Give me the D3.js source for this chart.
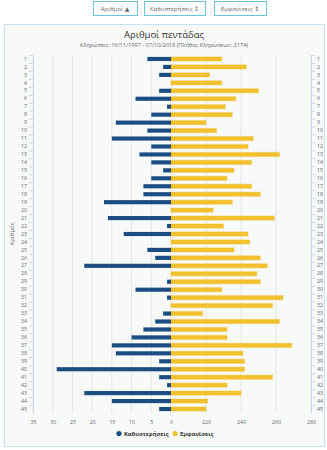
<!DOCTYPE html>
<html>
<head>
<meta charset="utf-8">
<script src="https://cdn.jsdelivr.net/npm/d3@7"></script>
<style>
  html, body { margin: 0; padding: 0; background: #ffffff; }
  body { width: 327px; height: 450px; overflow: hidden; font-family: "Open Sans", "DejaVu Sans", sans-serif; }
  svg { display: block; }
</style>
</head>
<body>
<svg id="chart" width="327" height="450"></svg>
<script>
// ---- Data ----
const numbers = d3.range(1, 46).map(String);
const delays = [6,2,3,0,3,9,1,5,14,6,15,5,8,5,2,5,7,7,17,0,16,1,12,0,6,4,22,0,1,9,1,0,2,4,7,10,15,14,3,29,3,1,22,15,3];
const appearances = [229,243,222,229,250,237,231,235,220,226,247,244,262,246,236,232,246,251,235,224,259,230,244,245,236,251,255,249,251,229,264,258,218,262,232,232,269,241,242,242,258,232,240,221,220];
const delayTicks = [35,30,25,20,15,10,5,0];
const appearTicks = [220,240,260,280];
const buttons = ["Αριθμοί ▲", "Καθυστερήσεις ⇕", "Εμφανίσεις ⇕"];
const title = "Αριθμοί πεντάδας";
const subtitle = "Κληρώσεις: 16/11/1997 - 07/10/2018 (Πλήθος Κληρώσεων: 2174)";
const seriesNames = ["Καθυστερήσεις", "Εμφανίσεις"];
const colors = { delay: "#1b4c82", appear: "#f2c12e" };

(function () {
const svg = d3.select("#chart");

// ---- Buttons ----
const btnBoxes = [[93, 44], [144, 61], [214, 52]];
buttons.forEach((b, i) => {
  const [x, w] = btnBoxes[i];
  svg.append("rect").attr("x", x + 0.5).attr("y", 1.5).attr("width", w).attr("height", 14)
    .attr("fill", "#fff").attr("stroke", "#6cc3dc").attr("stroke-width", 1);
  svg.append("text").attr("x", x + w / 2).attr("y", 11).attr("text-anchor", "middle")
    .attr("font-size", 6).attr("fill", "#666").text(b);
});

// ---- Container ----
svg.append("rect").attr("x", 4.5).attr("y", 24.5).attr("width", 320).attr("height", 422)
  .attr("fill", "#f8f9f9").attr("stroke", "#c4e4ef").attr("stroke-width", 1);

svg.append("text").attr("x", 164).attr("y", 37.5).attr("text-anchor", "middle")
  .attr("font-size", 9.5).attr("fill", "#333").text(title);
svg.append("text").attr("x", 164).attr("y", 47).attr("text-anchor", "middle")
  .attr("font-size", 5.6).attr("fill", "#666").text(subtitle);

// ---- Scales ----
const pTop = 55, pBottom = 413, pLeft = 33, pRight = 311, center = 171;
const y = d3.scaleBand().domain(numbers).range([pTop, pBottom]).paddingInner(0.48).paddingOuter(0.24);
const yb = d3.scaleBand().domain(numbers).range([pTop, pBottom]);
const xL = d3.scaleLinear().domain([0, 35]).range([center, pLeft]);
const xR = d3.scaleLinear().domain([200, 280]).range([center, pRight]);

// ---- Grid ----
const grid = svg.append("g");
delayTicks.forEach(t => grid.append("line").attr("x1", xL(t)).attr("x2", xL(t)).attr("y1", pTop).attr("y2", pBottom)
  .attr("stroke", "#e6e6e6").attr("stroke-width", 1));
appearTicks.forEach(t => grid.append("line").attr("x1", xR(t)).attr("x2", xR(t)).attr("y1", pTop).attr("y2", pBottom)
  .attr("stroke", "#e6e6e6").attr("stroke-width", 1));

// ---- Category axes ----
const axL = svg.append("g").attr("transform", `translate(${pLeft},0)`)
  .call(d3.axisLeft(yb).tickSize(0).tickPadding(6));
axL.select(".domain").attr("stroke", "#ccd6eb");
axL.selectAll("text").attr("font-size", 5.2).attr("fill", "#666").attr("font-family", "Open Sans, sans-serif");
axL.selectAll(".bnd").data(numbers).enter().append("line").attr("class", "bnd")
  .attr("x1", -4).attr("x2", 0).attr("y1", d => yb(d) + 0.5).attr("y2", d => yb(d) + 0.5)
  .attr("stroke", "#ccd6eb");

const axR = svg.append("g").attr("transform", `translate(${pRight},0)`)
  .call(d3.axisRight(yb).tickSize(0).tickPadding(6));
axR.select(".domain").attr("stroke", "#ccd6eb");
axR.selectAll("text").attr("font-size", 5.2).attr("fill", "#666").attr("font-family", "Open Sans, sans-serif");
axR.selectAll(".bnd").data(numbers).enter().append("line").attr("class", "bnd")
  .attr("x1", 0).attr("x2", 4).attr("y1", d => yb(d) + 0.5).attr("y2", d => yb(d) + 0.5)
  .attr("stroke", "#ccd6eb");

// y axis title
svg.append("text").attr("transform", `translate(14,${(pTop + pBottom) / 2}) rotate(-90)`)
  .attr("text-anchor", "middle").attr("font-size", 6).attr("fill", "#666").text("Αριθμός");

// ---- Bottom value axes ----
const axB1 = svg.append("g").attr("transform", `translate(0,${pBottom})`)
  .call(d3.axisBottom(xL).tickValues(delayTicks).tickSize(0).tickPadding(7));
axB1.select(".domain").remove();
axB1.selectAll("text").attr("font-size", 5.2).attr("fill", "#666").attr("font-family", "Open Sans, sans-serif");
const axB2 = svg.append("g").attr("transform", `translate(0,${pBottom})`)
  .call(d3.axisBottom(xR).tickValues(appearTicks).tickSize(0).tickPadding(7));
axB2.select(".domain").remove();
axB2.selectAll("text").attr("font-size", 5.2).attr("fill", "#666").attr("font-family", "Open Sans, sans-serif");

// ---- Bars ----
svg.append("g").selectAll("rect").data(appearances).enter().append("rect")
  .attr("x", center)
  .attr("y", (d, i) => y(numbers[i]))
  .attr("width", d => Math.max(0, xR(d) - center))
  .attr("height", y.bandwidth())
  .attr("fill", colors.appear)
  .attr("stroke", "rgba(242,193,46,0.35)").attr("stroke-width", 1.2);

svg.append("g").selectAll("rect").data(delays).enter().append("rect")
  .attr("x", d => xL(d))
  .attr("y", (d, i) => y(numbers[i]))
  .attr("width", d => center - xL(d))
  .attr("height", y.bandwidth())
  .attr("fill", colors.delay);

// ---- Legend ----
const leg = svg.append("g");
const legItems = [{ x: 119, name: seriesNames[0], c: colors.delay }, { x: 175, name: seriesNames[1], c: colors.appear }];
legItems.forEach(it => {
  leg.append("circle").attr("cx", it.x).attr("cy", 433.5).attr("r", 2.6).attr("fill", it.c);
  leg.append("text").attr("x", it.x + 5).attr("y", 435.5).attr("font-size", 5.8).attr("font-weight", "bold")
    .attr("fill", "#333").text(it.name);
});
})();
</script>
</body>
</html>
